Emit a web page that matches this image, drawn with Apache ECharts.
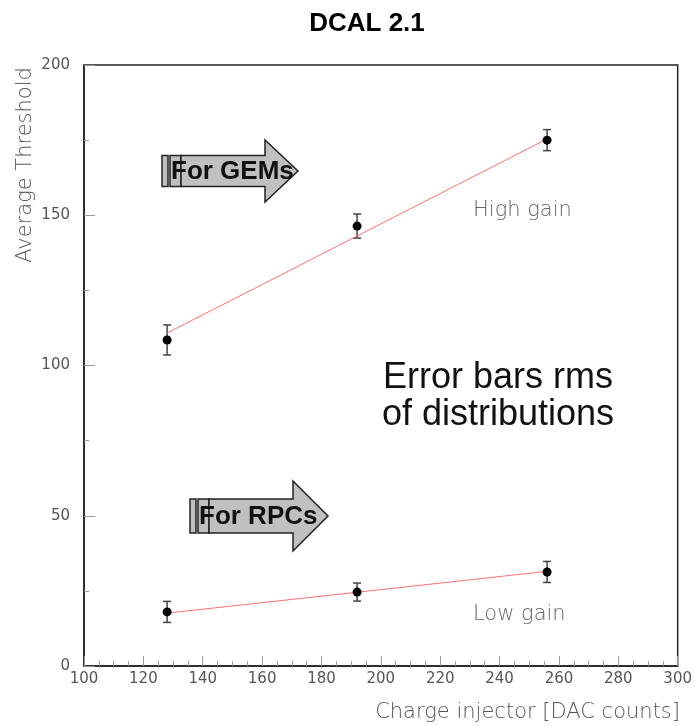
<!DOCTYPE html>
<html lang="en">
  <head>
    <meta charset="UTF-8" />
    <title>DCAL 2.1</title>
    <style>
      html, body { margin: 0; padding: 0; background: #fff; }
      #main { width: 695px; height: 726px; }
    </style>
    <script src="https://cdn.jsdelivr.net/npm/echarts@6/dist/echarts.min.js"></script>
  </head>
  <body>
    <div id="main"></div>
    <script>
      // injector settings and measured thresholds
      const dacCounts = [128, 192, 256]
      const highGain = [108.5, 146.4, 175.0]
      const highGainRms = [5.0, 4.0, 3.5]
      const lowGain = [18.0, 24.6, 31.3]
      const lowGainRms = [3.5, 3.0, 3.5]
      // linear fits, evaluated at first and last point
      const fitX = [128, 256]
      const highFit = [110.8, 175.4]
      const lowFit = [17.6, 31.5]

      const axisFont = 'DejaVu Sans'
      const grey = '#555'
      const thinFont = '200 21px "DejaVu Sans"'

      const pts = (xs, ys) => xs.map((x, i) => [x, ys[i]])
      const errData = (ys, rms) => dacCounts.map((x, i) => [x, ys[i] - rms[i], ys[i] + rms[i]])

      function renderErr(params, api) {
        const x = api.value(0)
        const lo = api.coord([x, api.value(1)])
        const hi = api.coord([x, api.value(2)])
        const cap = 4
        const style = { stroke: '#444', lineWidth: 1.5 }
        return {
          type: 'group',
          children: [
            { type: 'line', shape: { x1: lo[0], y1: lo[1], x2: hi[0], y2: hi[1] }, style },
            { type: 'line', shape: { x1: lo[0] - cap, y1: lo[1], x2: lo[0] + cap, y2: lo[1] }, style },
            { type: 'line', shape: { x1: hi[0] - cap, y1: hi[1], x2: hi[0] + cap, y2: hi[1] }, style }
          ]
        }
      }

      // arrow annotation: two thin stripes, a body and a head
      function arrow(x0, yMid, bodyEnd, tip, bodyH, headH, label) {
        const st = { fill: '#c0c0c0', stroke: '#222', lineWidth: 1.5 }
        return [
          { type: 'rect', shape: { x: x0, y: yMid - bodyH / 2, width: 6, height: bodyH }, style: st },
          { type: 'rect', shape: { x: x0 + 8, y: yMid - bodyH / 2, width: 11, height: bodyH }, style: st },
          {
            type: 'polygon',
            shape: {
              points: [
                [x0 + 19, yMid - bodyH / 2], [bodyEnd, yMid - bodyH / 2], [bodyEnd, yMid - headH / 2],
                [tip, yMid], [bodyEnd, yMid + headH / 2], [bodyEnd, yMid + bodyH / 2], [x0 + 19, yMid + bodyH / 2]
              ]
            },
            style: st
          },
          {
            type: 'text', x: x0 + 9, y: yMid + 1,
            style: { text: label, font: 'bold 26px "Liberation Sans", Arial', fill: '#111', verticalAlign: 'middle' }
          }
        ]
      }

      const chart = echarts.init(document.getElementById('main'))

      const option = {
        animation: false,
        title: {
          text: 'DCAL 2.1', left: 362, top: 6, textAlign: 'center',
          textStyle: { fontFamily: 'Liberation Sans', fontWeight: 'bold', fontSize: 26, color: '#000' }
        },
        grid: { left: 84, right: 16, top: 65, bottom: 60, show: true, borderColor: '#222', borderWidth: 1.5 },
        xAxis: {
          type: 'value', min: 100, max: 300, interval: 20,
          axisLine: { lineStyle: { color: '#222', width: 1.5 } },
          axisTick: { inside: true, length: 10, lineStyle: { color: '#999' } },
          minorTick: { show: true, splitNumber: 4, length: 5, lineStyle: { color: '#999' } },
          splitLine: { show: false },
          axisLabel: { color: grey, fontFamily: axisFont, fontSize: 15, margin: 6 }
        },
        yAxis: {
          type: 'value', min: 0, max: 200, interval: 50,
          axisLine: { show: true, lineStyle: { color: '#222', width: 1.5 } },
          axisTick: { show: true, inside: true, length: 11, lineStyle: { color: '#999' } },
          minorTick: { show: true, splitNumber: 2, length: 5, lineStyle: { color: '#999' } },
          splitLine: { show: false },
          axisLabel: { color: grey, fontFamily: axisFont, fontSize: 15, margin: 14 }
        },
        graphic: [
          {
            type: 'text', x: 26, y: 165, rotation: Math.PI / 2,
            style: { text: 'Average Threshold', font: thinFont, fill: '#555', align: 'center', verticalAlign: 'middle' }
          },
          {
            type: 'text', x: 680, y: 713,
            style: { text: 'Charge injector [DAC counts]', font: thinFont, fill: '#555', align: 'right', verticalAlign: 'middle' }
          },
          {
            type: 'text', x: 473, y: 211,
            style: { text: 'High gain', font: thinFont, fill: '#666', verticalAlign: 'middle' }
          },
          {
            type: 'text', x: 473, y: 615,
            style: { text: 'Low gain', font: thinFont, fill: '#666', verticalAlign: 'middle' }
          },
          {
            type: 'text', x: 498, y: 397,
            style: {
              text: 'Error bars rms\nof distributions', font: '36px "Liberation Sans", Arial',
              fill: '#111', align: 'center', verticalAlign: 'middle', lineHeight: 37
            }
          },
          ...arrow(162, 171, 265, 298, 31, 62, 'For GEMs'),
          ...arrow(190, 516, 293, 328, 34, 70, 'For RPCs')
        ],
        series: [
          {
            type: 'line', data: pts(fitX, highFit), symbol: 'none',
            lineStyle: { color: '#ff7070', width: 1 }
          },
          {
            type: 'line', data: pts(fitX, lowFit), symbol: 'none',
            lineStyle: { color: '#ff7070', width: 1 }
          },
          { type: 'custom', renderItem: renderErr, data: errData(highGain, highGainRms), z: 3 },
          { type: 'custom', renderItem: renderErr, data: errData(lowGain, lowGainRms), z: 3 },
          {
            type: 'scatter', data: pts(dacCounts, highGain), symbolSize: 9,
            itemStyle: { color: '#000', opacity: 1 }, z: 4
          },
          {
            type: 'scatter', data: pts(dacCounts, lowGain), symbolSize: 9,
            itemStyle: { color: '#000', opacity: 1 }, z: 4
          }
        ]
      }

      chart.setOption(option)
    </script>
  </body>
</html>
